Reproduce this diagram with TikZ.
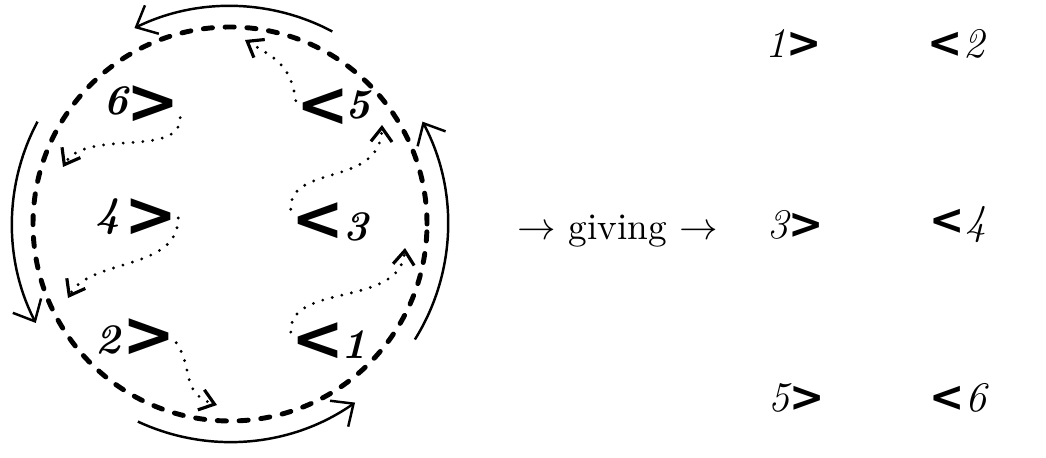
\documentclass[tikz,border=0pt]{standalone}
\usepackage{fontspec}
\newfontfamily\chevfont{DejaVu Sans}
\usetikzlibrary{arrows.meta}
\begin{document}
\begin{tikzpicture}[x=0.01cm,y=0.01cm,
  ring/.style={line width=1.4pt,dash pattern=on 2.6pt off 3.6pt,line cap=round},
  flow/.style={line width=0.7pt,-{Straight Barb[length=5pt,width=9pt]}},
  trail/.style={line width=0.9pt,line cap=round,dash pattern=on 0pt off 2.8pt,-{Straight Barb[length=4pt,width=6pt]}},
  chev/.style={inner sep=0pt,font=\chevfont\bfseries\fontsize{18}{18}\selectfont},
  num/.style={inner sep=0pt,font=\large\bfseries\itshape},
  pair/.style={inner sep=0pt,font=\large\itshape}]

\useasboundingbox (0,0) rectangle (1046,458);

% Dashed ring
\coordinate (o) at (230,234);
\draw[ring] (o) circle[radius=197];

% Outer arrows
\foreach \a/\b in {62/116,152/207,245/305,328/388}
  \draw[flow] (o) ++(\a:218) arc[start angle=\a,end angle=\b,radius=218];

% Chevrons and numbers inside the ring
\node[chev] (c6) at (153,353) {>};
\node[num] (n6) at (116,357) {6};
\node[chev] (c5) at (323,350) {<};
\node[num] (n5) at (358,353) {5};
\node[chev] (c4) at (151,240) {>};
\node[num] (n4) at (108,241) {4};
\node[chev] (c3) at (318,236) {<};
\node[num] (n3) at (356,231) {3};
\node[chev] (c2) at (149,120) {>};
\node[num] (n2) at (108,118) {2};
\node[chev] (c1) at (318,116) {<};
\node[num] (n1) at (354,113) {1};

% Ends of the dotted paths
\coordinate (e1) at (405,210);
\coordinate (e3) at (382,333);
\coordinate (e5) at (245,418);
\coordinate (e6) at (63,291);
\coordinate (e4) at (68,160);
\coordinate (e2) at (217,53);

% Dotted paths
\draw[trail] (c1.160) .. controls +(-2,50) and +(-5,-60) .. (e1);
\draw[trail] (c3.155) .. controls +(-2,46) and +(-2,-63) .. (e3);
\draw[trail] (c5.165) .. controls +(-5,36) and +(30,-18) .. (e5);
\draw[trail] (c6.-25) .. controls +(0,-41) and +(22,39) .. (e6);
\draw[trail] (c4.east) .. controls +(0,-53) and +(22,40) .. (e4);
\draw[trail] (c2.-10) .. controls +(18,-26) and +(-37,12) .. (e2);

% Result
\node[anchor=base,font=\fontsize{10.6}{12}\selectfont] (giv) at (618,218) {$\rightarrow$ giving $\rightarrow$};

\node[pair] (r1) at (794,415) {1{\chevfont\bfseries >}};
\node[pair] (r2) at (956,414) {{\chevfont\bfseries <}2};
\node[pair] (r3) at (796,233) {3{\chevfont\bfseries >}};
\node[pair] (r4) at (958,233) {{\chevfont\bfseries <}4};
\node[pair] (r5) at (797,60) {5{\chevfont\bfseries >}};
\node[pair] (r6) at (958,60) {{\chevfont\bfseries <}6};

\end{tikzpicture}
\end{document}
